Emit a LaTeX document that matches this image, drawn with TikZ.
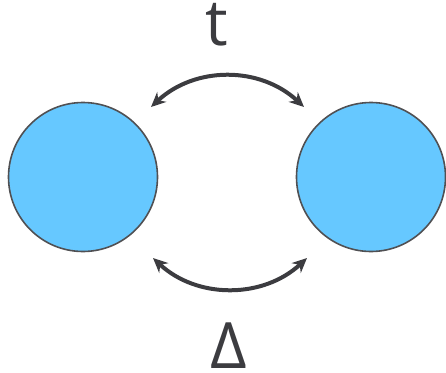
\documentclass[tikz,border=0pt]{standalone}
\usepackage{fontspec}
\setmainfont{Open Sans}
\usetikzlibrary{arrows.meta}
\definecolor{ink}{HTML}{3C3C40}
\definecolor{ball}{HTML}{66C8FF}
\begin{document}
\begin{tikzpicture}[x=0.75pt,y=-0.75pt,
  ballnode/.style={circle,draw=ink!90,line width=1.2pt,fill=ball,minimum size=149*0.75pt,inner sep=0pt},
  swing/.style={draw=ink,line width=3pt,{Stealth[length=11pt,width=10pt]}-{Stealth[length=11pt,width=10pt]}},
  lbl/.style={text=ink,font=\fontsize{48}{48}\selectfont,inner sep=0pt}]
\useasboundingbox (0,0) rectangle (446,372);
\node[ballnode] (L) at (83,177) {};
\node[ballnode] (R) at (371,177) {};
\coordinate (ta) at (151,107);
\coordinate (tb) at (304,107);
\coordinate (ba) at (153,258);
\coordinate (bb) at (307,258);
\draw[swing] (ta) .. controls (195,66) and (260,66) .. (tb);
\draw[swing] (ba) .. controls (197,299) and (263,299) .. (bb);
\node[lbl,anchor=base] (t) at (217,45) {t};
\node[lbl,anchor=base] (d) at (229,368) {Δ};
\end{tikzpicture}
\end{document}
